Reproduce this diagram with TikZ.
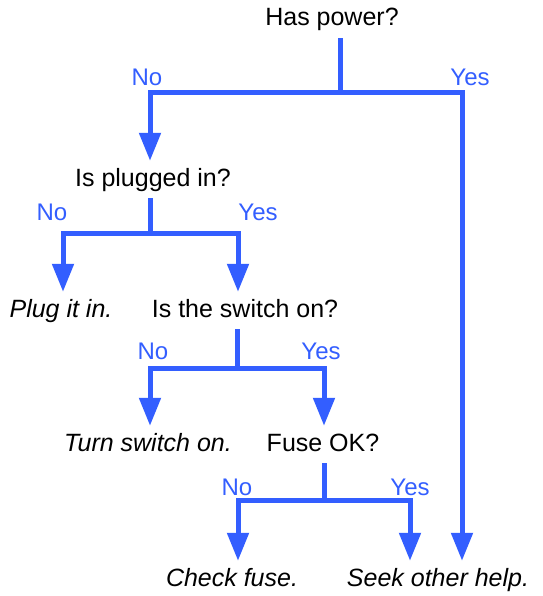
\documentclass[tikz,border=0pt]{standalone}
\usepackage{fontspec}
\setmainfont{Liberation Sans}
\usetikzlibrary{arrows.meta}
\definecolor{flowblue}{RGB}{51, 94, 255}

\begin{document}
\begin{tikzpicture}[x=1pt, y=-1pt,
  q/.style={anchor=base, inner sep=7pt, text height=18pt, text depth=5pt, font=\fontsize{25}{30}\selectfont},
  ans/.style={q, font=\fontsize{25}{30}\selectfont\itshape},
  lbl/.style={anchor=base, inner sep=0pt, text=flowblue, font=\fontsize{24}{28}\selectfont},
  ln/.style={flowblue, line width=5pt},
  arr/.style={ln, -{Triangle[width=21pt, length=28pt]}}]
\useasboundingbox (0,0) rectangle (542,596);
% questions and answers
\node[q] (power) at (332,26) {Has power?};
\node[q] (plugged) at (153,186) {Is plugged in?};
\node[ans] (plug) at (61,317) {Plug it in.};
\node[q] (switch) at (245,317) {Is the switch on?};
\node[ans] (turn) at (148,451) {Turn switch on.};
\node[q] (fuse) at (323,451) {Fuse OK?};
\node[ans] (check) at (232,586) {Check fuse.};
\node[ans] (seek) at (438,586) {Seek other help.};
% branch points
\coordinate (j1) at (340,93);
\coordinate (j1l) at (150,93);
\coordinate (j1r) at (462,93);
\coordinate (j2) at (150,233);
\coordinate (j2l) at (63,233);
\coordinate (j2r) at (238,233);
\coordinate (j3) at (237,368);
\coordinate (j3l) at (150,368);
\coordinate (j3r) at (324,368);
\coordinate (j4) at (324,500);
\coordinate (j4l) at (238,500);
\coordinate (j4r) at (410,500);
% connectors
\draw[ln] (j1 |- power.south) -- (j1);
\draw[arr] (j1) -| (j1l |- plugged.north);
\draw[arr] (j1) -| (j1r |- seek.north);
\draw[ln] (j2 |- plugged.south) -- (j2);
\draw[arr] (j2) -| (j2l |- plug.north);
\draw[arr] (j2) -| (j2r |- switch.north);
\draw[ln] (j3 |- switch.south) -- (j3);
\draw[arr] (j3) -| (j3l |- turn.north);
\draw[arr] (j3) -| (j3r |- fuse.north);
\draw[ln] (j4 |- fuse.south) -- (j4);
\draw[arr] (j4) -| (j4l |- check.north);
\draw[arr] (j4) -| (j4r |- seek.north);
% labels
\node[lbl] (no1) at (147,86) {No};
\node[lbl] (yes1) at (470,86) {Yes};
\node[lbl] (no2) at (52,220) {No};
\node[lbl] (yes2) at (258,220) {Yes};
\node[lbl] (no3) at (153,359) {No};
\node[lbl] (yes3) at (321,359) {Yes};
\node[lbl] (no4) at (237,495) {No};
\node[lbl] (yes4) at (410,495) {Yes};
\end{tikzpicture}
\end{document}
